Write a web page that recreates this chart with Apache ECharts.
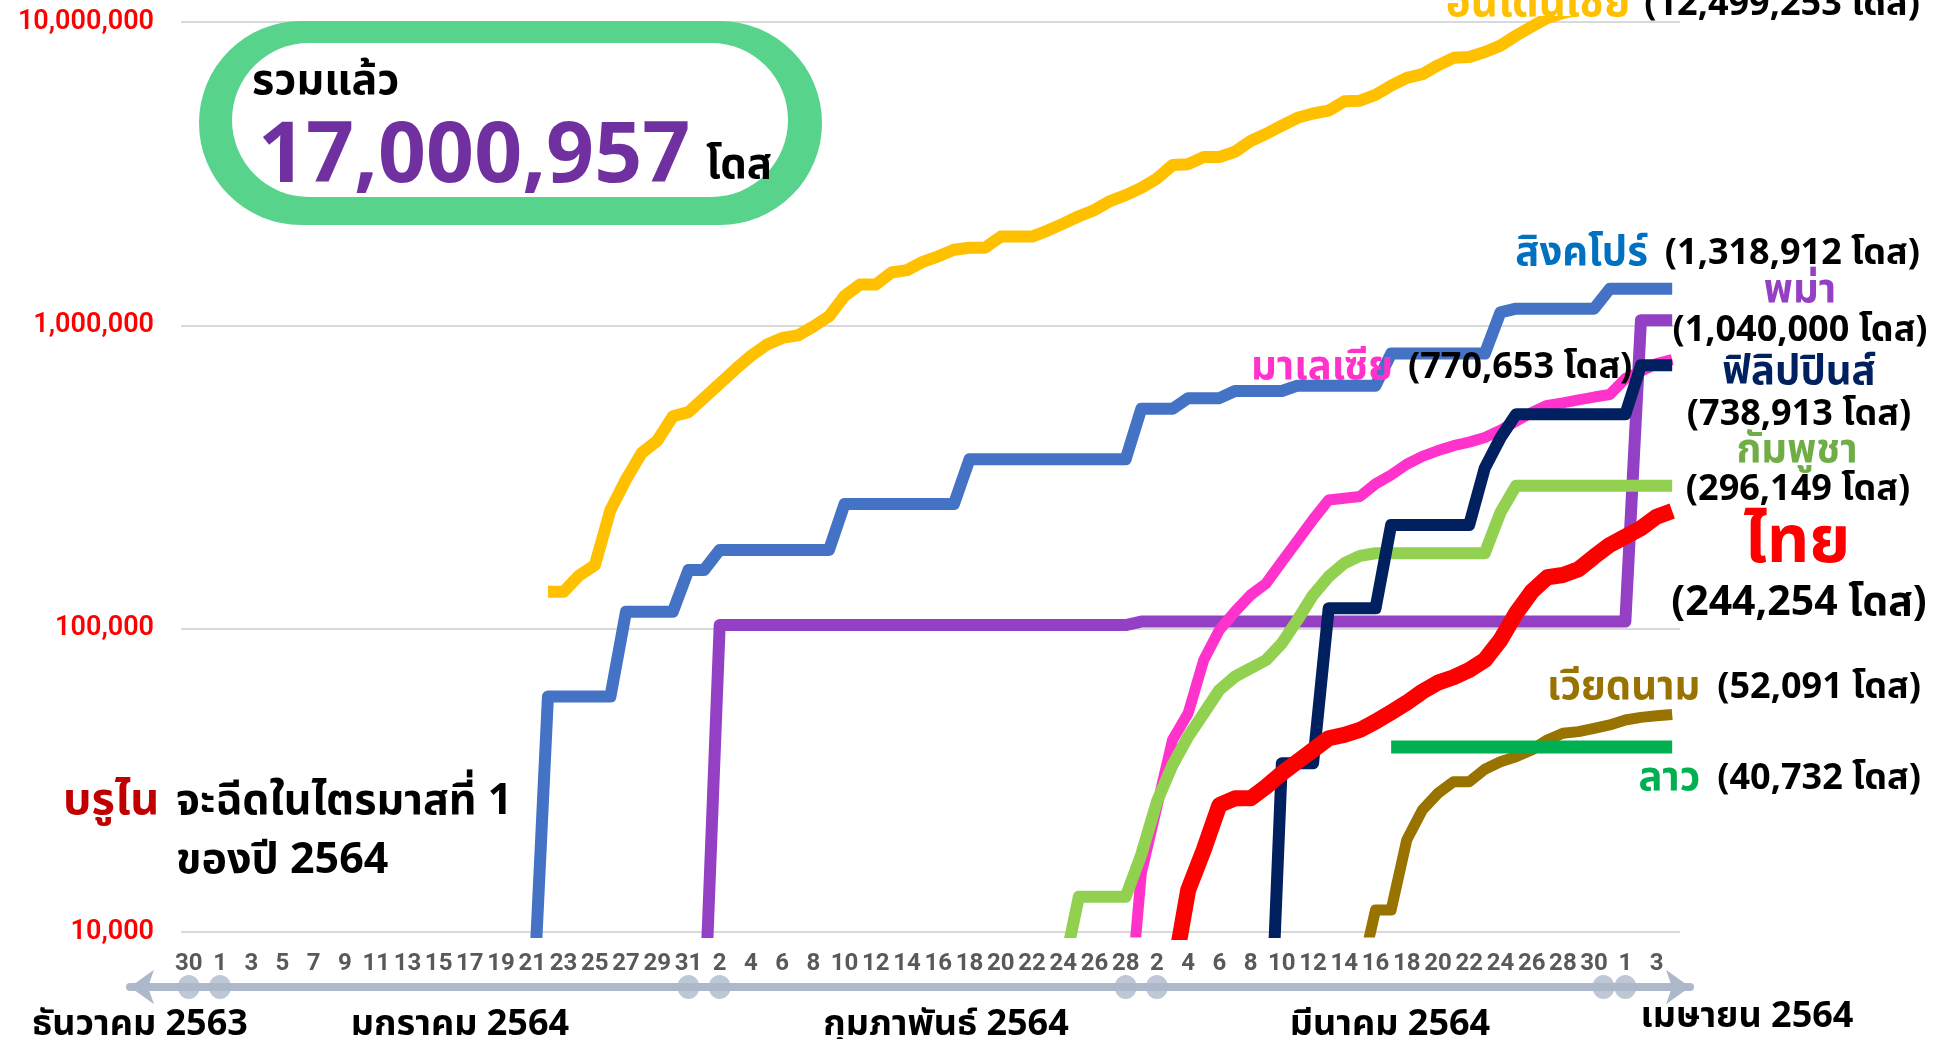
<!DOCTYPE html>
<html>
<head>
<meta charset="utf-8">
<script src="https://cdn.jsdelivr.net/npm/echarts@6/dist/echarts.min.js"></script>
<style>
  html, body { margin: 0; padding: 0; background: #fff; }
  #chart { width: 1936px; height: 1039px; }
</style>
</head>
<body>
<div id="chart"></div>
<script>
// Day-of-month labels, 30 Dec 2563 through 4 Apr 2564 (one category per day)
const dayLabels = [
  '30', '31',
  '1','2','3','4','5','6','7','8','9','10','11','12','13','14','15','16','17','18','19','20','21','22','23','24','25','26','27','28','29','30','31',
  '1','2','3','4','5','6','7','8','9','10','11','12','13','14','15','16','17','18','19','20','21','22','23','24','25','26','27','28',
  '1','2','3','4','5','6','7','8','9','10','11','12','13','14','15','16','17','18','19','20','21','22','23','24','25','26','27','28','29','30','31',
  '1','2','3','4'
];

// Y-axis ticks (log scale)
const yTicks = [10000, 100000, 1000000, 10000000];

// Cumulative doses per country; each series begins at the given category index
const indonesiaStart = 23;
const indonesia = [132300,132300,149800,161800,245900,310100,379300,416500,501500,517300,576300,642600,716100,793200,862400,908800,926100,991700,1071000,1251000,1364000,1364000,1493000,1521000,1618000,1689000,1775000,1803000,1803000,1961000,1961000,1961000,2053000,2164000,2289000,2399000,2569000,2687000,2838000,3047000,3375000,3399000,3589000,3589000,3736000,4053000,4280000,4554000,4832000,4993000,5104000,5476000,5505000,5748000,6170000,6546000,6728000,7199000,7621000,7667000,7964000,8360000,9019000,9652000,10300000,10700000,11000000,11300000,11600000,11900000,12150000,12350000,12499253];

const singaporeStart = 22;
const singapore = [5000,59700,59700,59700,59700,59700,113800,113800,113800,113800,156100,156100,181800,181800,181800,181800,181800,181800,181800,181800,257800,257800,257800,257800,257800,257800,257800,257800,362100,362100,362100,362100,362100,362100,362100,362100,362100,362100,362100,530500,530500,530500,575400,575400,575400,607700,607700,607700,607700,632700,632700,632700,632700,632700,632700,807200,807200,807200,807200,807200,807200,807200,1103000,1135000,1135000,1135000,1135000,1135000,1135000,1318912,1318912,1318912,1318912,1318912];

const myanmarStart = 33;
const myanmar = [5000,102800,102800,102800,102800,102800,102800,102800,102800,102800,102800,102800,102800,102800,102800,102800,102800,102800,102800,102800,102800,102800,102800,102800,102800,102800,102800,102800,105500,105500,105500,105500,105500,105500,105500,105500,105500,105500,105500,105500,105500,105500,105500,105500,105500,105500,105500,105500,105500,105500,105500,105500,105500,105500,105500,105500,105500,105500,105500,105500,1040000,1040000,1040000];

const malaysiaStart = 60;
const malaysia = [4000,15610,25890,42960,52600,78850,99000,113800,129100,141100,166300,195000,229000,265700,269300,272900,300200,321200,348300,370000,386400,401200,412100,426800,450600,482500,516100,544800,555200,567500,580200,591300,667700,705300,748200,770653];

const philippinesStart = 69;
const philippines = [2000,35990,35990,35990,116700,116700,116700,116700,219800,219800,219800,219800,219800,219800,338800,425600,509000,509000,509000,509000,509000,509000,509000,509000,738913,738913,738913];

const cambodiaStart = 56;
const cambodia = [7400,13070,13070,13070,13070,18000,26890,35530,44050,52600,62800,69470,74050,78850,89490,106800,129100,148400,164300,173700,177300,177300,177300,177300,177300,177300,177300,177300,241500,296149,296149,296149,296149,296149,296149,296149,296149,296149,296149,296149];

const thailandStart = 63;
const thailand = [7000,13750,18640,26220,27590,27590,30140,33360,36430,39810,43520,44630,46340,49360,53010,57020,62000,66370,69140,73080,78850,91770,112400,132400,147700,150300,157000,172700,188800,201100,214300,234000,244254];

const vietnamStart = 75;
const vietnam = [7000,11820,11820,20110,25250,28670,31300,31300,34390,36430,37840,39810,42950,45190,45760,46940,48140,50000,51000,51600,52091];

const laosStart = 77;
const laos = [40732,40732,40732,40732,40732,40732,40732,40732,40732,40732,40732,40732,40732,40732,40732,40732,40732,40732,40732];

// Month-boundary markers on the timeline (category positions)
const monthMarks = [0, 2, 32, 34, 60, 62, 90.6, 92];

// Month captions under the timeline
const monthCaptions = ['ธันวาคม 2563', 'มกราคม 2564', 'กุมภาพันธ์ 2564', 'มีนาคม 2564', 'เมษายน 2564'];

// ---------------------------------------------------------------
const W = 1936, H = 1039;
const plot = { left: 181, right: 256, top: 22, bottom: 107 };
const band = (W - plot.left - plot.right) / dayLabels.length;
const idxAt = px => (px - plot.left) / band - 0.5;
const timeline = { left: 130, right: 246, y: 987 };

function pad(start, values) {
  const out = new Array(dayLabels.length).fill(null);
  values.forEach((v, i) => { out[start + i] = v; });
  return out;
}

const THAI = "'Noto Sans Thai','Noto Sans Thai UI','Loma','Garuda','Tlwg Typo','Noto Sans','DejaVu Sans',sans-serif";
const NUM = "Roboto,'Noto Sans',sans-serif";

function line(name, start, values, color, width, z) {
  return {
    name, type: 'line', xAxisIndex: 0, yAxisIndex: 0,
    data: pad(start, values),
    symbol: 'none', smooth: false, clip: true, z: z || 2,
    lineStyle: { color, width, join: 'round', cap: 'butt' },
    emphasis: { disabled: true }
  };
}

function txt(x, y, text, rich, align) {
  return {
    type: 'text', x, y, z: 100,
    style: { text, rich, align: align || 'left', textAlign: align || 'left', verticalAlign: 'middle', textVerticalAlign: 'middle' }
  };
}

const rb = (fill, size, gap) => ({ fill, fontSize: size, fontWeight: 'bold', fontFamily: THAI, padding: [0, gap || 0, 0, 0] });

const chart = echarts.init(document.getElementById('chart'), null, { renderer: 'canvas' });

chart.setOption({
  backgroundColor: '#ffffff',
  animation: false,
  grid: [
    { left: plot.left, right: plot.right, top: plot.top, bottom: plot.bottom },
    { left: timeline.left, right: timeline.right, top: timeline.y - 2, height: 2 }
  ],
  xAxis: [
    {
      type: 'category', gridIndex: 0, data: dayLabels, boundaryGap: true,
      axisLine: { show: false }, axisTick: { show: false },
      axisLabel: { interval: 1, color: '#595959', fontSize: 24, fontWeight: 'bold', fontFamily: NUM, margin: 20 },
      splitLine: { show: false }
    },
    {
      type: 'value', gridIndex: 1,
      min: idxAt(timeline.left), max: idxAt(W - timeline.right),
      axisLine: { show: true, onZero: false, symbol: ['arrow', 'arrow'], symbolSize: [26, 24],
                  lineStyle: { color: '#adb9ca', width: 8 } },
      axisTick: { show: false }, axisLabel: { show: false }, splitLine: { show: false }
    }
  ],
  yAxis: [
    {
      type: 'log', logBase: 10, gridIndex: 0, min: yTicks[0], max: yTicks[yTicks.length - 1],
      axisLine: { show: false }, axisTick: { show: false },
      splitLine: { show: true, lineStyle: { color: '#d9d9d9', width: 2 } },
      axisLabel: { color: '#ff0000', fontSize: 27, fontWeight: 600, fontFamily: NUM, margin: 27,
                   formatter: v => Math.round(v).toLocaleString('en-US') }
    },
    { type: 'value', gridIndex: 1, show: false, min: 0, max: 1 }
  ],
  series: [
    line('อินโดนีเซีย', indonesiaStart, indonesia, '#ffc000', 12),
    line('สิงคโปร์', singaporeStart, singapore, '#4472c4', 12),
    line('พม่า', myanmarStart, myanmar, '#9440c4', 12),
    line('มาเลเซีย', malaysiaStart, malaysia, '#ff33cc', 11),
    line('กัมพูชา', cambodiaStart, cambodia, '#92d050', 12),
    line('ฟิลิปปินส์', philippinesStart, philippines, '#002060', 12),
    line('ไทย', thailandStart, thailand, '#ff0000', 16),
    line('เวียดนาม', vietnamStart, vietnam, '#997300', 11),
    line('ลาว', laosStart, laos, '#00b050', 13),
    {
      type: 'scatter', xAxisIndex: 1, yAxisIndex: 1, clip: false, z: 5,
      data: monthMarks.map(m => [m, 0]),
      symbol: 'circle', symbolSize: [22, 24],
      itemStyle: { color: '#adb9ca' }, emphasis: { disabled: true }
    }
  ],
  graphic: [
    // total-dose badge
    { type: 'rect', z: 90, shape: { x: 199, y: 21, width: 623, height: 204, r: 102 }, style: { fill: '#57d38c' } },
    { type: 'rect', z: 91, shape: { x: 232, y: 43, width: 556, height: 154, r: 77 }, style: { fill: '#ffffff' } },
    txt(252, 85, '{a|รวมแล้ว}', { a: rb('#000000', 43) }),
    txt(258, 158, '{a|17,000,957}', { a: { fill: '#7030a0', fontSize: 84, fontWeight: 'bold', fontFamily: "'Noto Sans',Roboto,sans-serif" } }),
    txt(706, 170, '{a|โดส}', { a: rb('#000000', 42) }),

    // country end labels
    txt(1920, 8, '{n|อินโดนีเซีย}{v|(12,499,253 โดส)}', { n: rb('#ffc000', 42, 14), v: rb('#000000', 36) }, 'right'),
    txt(1920, 257, '{n|สิงคโปร์}{v|(1,318,912 โดส)}', { n: rb('#0070c0', 40, 17), v: rb('#000000', 36) }, 'right'),
    txt(1800, 294, '{n|พม่า}', { n: rb('#9440c4', 40) }, 'center'),
    txt(1800, 334, '{v|(1,040,000 โดส)}', { v: rb('#000000', 36) }, 'center'),
    txt(1251, 371, '{n|มาเลเซีย}{v|(770,653 โดส)}', { n: rb('#ff33cc', 40, 15), v: rb('#000000', 36) }),
    txt(1799, 376, '{n|ฟิลิปปินส์}', { n: rb('#002060', 40) }, 'center'),
    txt(1799, 418, '{v|(738,913 โดส)}', { v: rb('#000000', 36) }, 'center'),
    txt(1797, 454, '{n|กัมพูชา}', { n: rb('#70ad47', 40) }, 'center'),
    txt(1798, 493, '{v|(296,149 โดส)}', { v: rb('#000000', 36) }, 'center'),
    txt(1797, 549, '{n|ไทย}', { n: rb('#ff0000', 66) }, 'center'),
    txt(1799, 607, '{v|(244,254 โดส)}', { v: rb('#000000', 41) }, 'center'),
    txt(1921, 691, '{n|เวียดนาม}{v|(52,091 โดส)}', { n: rb('#997300', 40, 17), v: rb('#000000', 36) }, 'right'),
    txt(1921, 782, '{n|ลาว}{v|(40,732 โดส)}', { n: rb('#00b050', 40, 17), v: rb('#000000', 36) }, 'right'),

    // Brunei note
    txt(63, 805, '{n|บรูไน}', { n: rb('#c00000', 45) }),
    txt(176, 805, '{v|จะฉีดในไตรมาสที่ 1}', { v: rb('#000000', 43) }),
    txt(176, 864, '{v|ของปี 2564}', { v: rb('#000000', 43) }),

    // month captions
    txt(140, 1028, '{m|' + monthCaptions[0] + '}', { m: rb('#000000', 36) }, 'center'),
    txt(460, 1028, '{m|' + monthCaptions[1] + '}', { m: rb('#000000', 36) }, 'center'),
    txt(946, 1028, '{m|' + monthCaptions[2] + '}', { m: rb('#000000', 36) }, 'center'),
    txt(1390, 1028, '{m|' + monthCaptions[3] + '}', { m: rb('#000000', 36) }, 'center'),
    txt(1747, 1020, '{m|' + monthCaptions[4] + '}', { m: rb('#000000', 36) }, 'center')
  ]
});
</script>
</body>
</html>
